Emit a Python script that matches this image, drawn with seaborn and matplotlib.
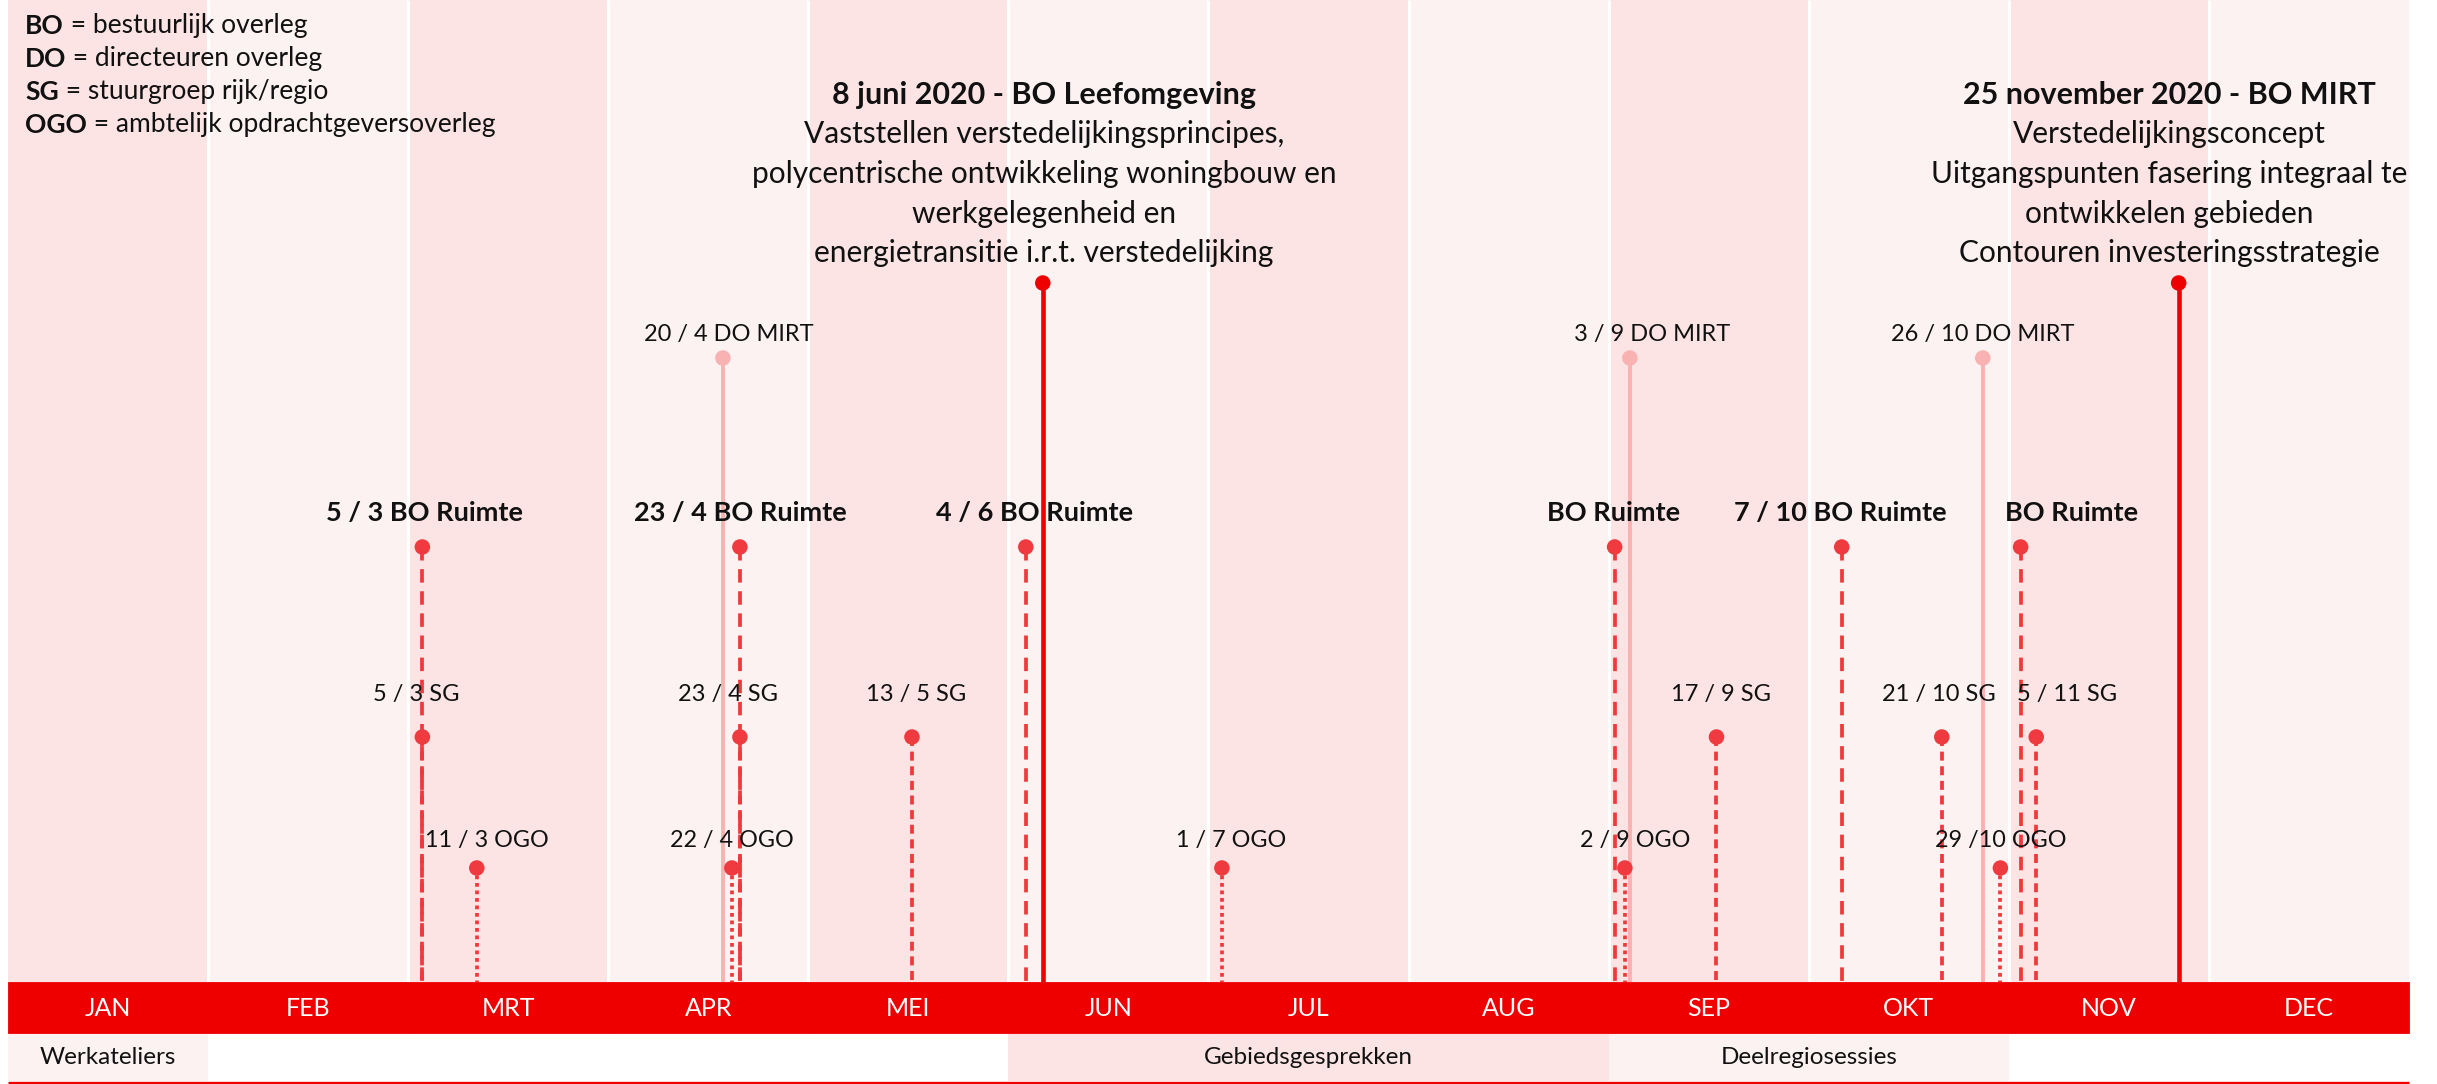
import matplotlib
matplotlib.use("Agg")
import matplotlib.pyplot as plt
import numpy as np
import pandas as pd
import seaborn as sns

# ---------------- data ----------------
months = ["JAN", "FEB", "MRT", "APR", "MEI", "JUN", "JUL", "AUG", "SEP", "OKT", "NOV", "DEC"]

# position = month index + fraction of month
bo_main_titles = ["8 juni 2020 - BO Leefomgeving", "25 november 2020 - BO MIRT"]
bo_main_pos = [5.172, 10.849]
bo_main_body = [
    ["Vaststellen verstedelijkingsprincipes,",
     "polycentrische ontwikkeling woningbouw en",
     "werkgelegenheid en",
     "energietransitie i.r.t. verstedelijking"],
    ["Verstedelijkingsconcept",
     "Uitgangspunten fasering integraal te",
     "ontwikkelen gebieden",
     "Contouren investeringsstrategie"],
]

do_labels = ["20 / 4 DO MIRT", "3 / 9 DO MIRT", "26 / 10 DO MIRT"]
do_pos = [3.573, 8.106, 9.870]

bo_ruimte_labels = ["5 / 3 BO Ruimte", "23 / 4 BO Ruimte", "4 / 6 BO Ruimte",
                    "BO Ruimte", "7 / 10 BO Ruimte", "BO Ruimte"]
bo_ruimte_pos = [2.071, 3.658, 5.087, 8.030, 9.165, 10.059]

sg_labels = ["5 / 3 SG", "23 / 4 SG", "13 / 5 SG", "17 / 9 SG", "21 / 10 SG", "5 / 11 SG"]
sg_pos = [2.071, 3.658, 4.518, 8.539, 9.665, 10.137]

ogo_labels = ["11 / 3 OGO", "22 / 4 OGO", "1 / 7 OGO", "2 / 9 OGO", "29 /10 OGO"]
ogo_pos = [2.343, 3.618, 6.067, 8.081, 9.958]

phase_labels = ["Werkateliers", "Gebiedsgesprekken", "Deelregiosessies"]
phase_start = [0, 5, 8]
phase_end = [1, 8, 10]

legend_abbr = ["BO", "DO", "SG", "OGO"]
legend_desc = ["bestuurlijk overleg", "directeuren overleg",
               "stuurgroep rijk/regio", "ambtelijk opdrachtgeversoverleg"]

# ---------------- layout / style ----------------
W, H = 2437, 1084
X0, MW = 8.0, 200.08            # left edge of JAN and month width in px
BAR_TOP, BAR_BOT, ROW_BOT = 982, 1033, 1081

level = {"main": 283, "do": 358, "bor": 547, "sg": 737, "ogo": 868}
label_y = {"do": 334, "bor": 513, "sg": 694, "ogo": 841}
label_dx_px = {
    "do": [6, 22, 0],
    "bor": [2, 0, 9, -1, -1, 51],
    "sg": [-6, -12, 4, 5, -3, 31],
    "ogo": [10, 0, 9, 10, 0],
    "main": [1, -9],
}
label_size = {"do": 17, "bor": 19.5, "sg": 17, "ogo": 16.8}

RED = "#EE0000"
DOT_RED = "#EF3B3F"
LINE_RED = "#F0393C"
PINK = "#F9B2B2"
BAND_A = "#FCE4E4"
BAND_B = "#FDF2F2"

sns.set_style("white")
FONT = ["Lato", "DejaVu Sans"]
plt.rcParams["font.family"] = FONT

fig = plt.figure(figsize=(W / 100, H / 100), dpi=100)
ax = fig.add_axes([0, 0, 1, 1])

# month background bands
centers = np.arange(12) + 0.5
band_colors = [BAND_A if i % 2 == 0 else BAND_B for i in range(12)]
ax.bar(centers, BAR_TOP, bottom=0, width=1.0, color=band_colors, linewidth=0, zorder=0)
for b in range(1, 12):
    ax.plot([b, b], [0, BAR_TOP], color="white", lw=2.2, zorder=1, solid_capstyle="butt")

# month red bar
ax.bar(centers, BAR_BOT - BAR_TOP, bottom=BAR_TOP, width=1.0, color=RED,
       edgecolor=RED, linewidth=0.6, zorder=6)
for i, m in enumerate(months):
    ax.text(i + 0.5, (BAR_TOP + BAR_BOT) / 2 + 1, m, ha="center", va="center",
            color="white", fontsize=18, zorder=7)

# bottom phase row
phase_colors = [BAND_B, BAND_A, BAND_B]
for lab, s, e, c in zip(phase_labels, phase_start, phase_end, phase_colors):
    ax.bar((s + e) / 2, ROW_BOT - BAR_BOT, bottom=BAR_BOT, width=e - s, color=c,
           linewidth=0, zorder=1)
    ax.text((s + e) / 2, (BAR_BOT + ROW_BOT) / 2 + 1, lab, ha="center", va="center",
            color="#111111", fontsize=17.5, zorder=7)
ax.plot([0, 12], [ROW_BOT + 1.5, ROW_BOT + 1.5], color=RED, lw=2.4, zorder=7,
        solid_capstyle="butt")

# events table
rows = []
for p in bo_main_pos:
    rows.append(("main", p))
for p in do_pos:
    rows.append(("do", p))
for p in bo_ruimte_pos:
    rows.append(("bor", p))
for p in sg_pos:
    rows.append(("sg", p))
for p in ogo_pos:
    rows.append(("ogo", p))
df = pd.DataFrame(rows, columns=["kind", "pos"])
df["level"] = df["kind"].map(level)

stem_style = {
    "main": dict(color=RED, lw=3.3, ls="-", z=3.4),
    "do": dict(color=PINK, lw=2.8, ls="-", z=2.0),
    "bor": dict(color=LINE_RED, lw=2.7, ls=(0, (3.6, 2.3)), z=3.0),
    "sg": dict(color=LINE_RED, lw=2.7, ls=(0, (2.4, 1.5)), z=3.1),
    "ogo": dict(color=LINE_RED, lw=2.7, ls=(0, (1.0, 1.0)), z=3.2),
}
for _, r in df.iterrows():
    st = stem_style[r["kind"]]
    ax.plot([r["pos"], r["pos"]], [r["level"], BAR_TOP], color=st["color"], lw=st["lw"],
            ls=st["ls"], zorder=st["z"], solid_capstyle="butt", dash_capstyle="butt")

palette = {"main": RED, "do": PINK, "bor": DOT_RED, "sg": DOT_RED, "ogo": DOT_RED}
sns.scatterplot(data=df, x="pos", y="level", hue="kind", palette=palette, s=125,
                linewidth=0, legend=False, ax=ax, zorder=5)
ax.set_xlim(-X0 / MW, (W - X0) / MW)
ax.set_ylim(H, 0)
ax.axis("off")

# labels
def put_labels(kind, labels, pos, bold=False):
    for lab, p, dx in zip(labels, pos, label_dx_px[kind]):
        ax.text(p + dx / MW, label_y[kind], lab, ha="center", va="center",
                fontsize=label_size[kind], fontweight="bold" if bold else "normal",
                color="#111111", zorder=8)

put_labels("do", do_labels, do_pos)
put_labels("bor", bo_ruimte_labels, bo_ruimte_pos, bold=True)
put_labels("sg", sg_labels, sg_pos)
put_labels("ogo", ogo_labels, ogo_pos)

TITLE_Y, LINE_GAP = 95, 39.5
for t, p, body, dx in zip(bo_main_titles, bo_main_pos, bo_main_body, label_dx_px["main"]):
    ax.text(p + dx / MW, TITLE_Y, t, ha="center", va="center", fontsize=22,
            fontweight="bold", color="#111111", zorder=8)
    for k, line in enumerate(body):
        ax.text(p + dx / MW, TITLE_Y + (k + 1) * LINE_GAP, line, ha="center",
                va="center", fontsize=21.5, color="#111111", zorder=8)

# abbreviation legend (top-left)
for k, (a, d) in enumerate(zip(legend_abbr, legend_desc)):
    y = 26 + k * 33
    t = ax.text((25 - X0) / MW, y, a, ha="left", va="center", fontsize=19,
                fontweight="bold", color="#111111", zorder=8)
    ax.annotate(" = " + d, xy=(1, 0), xycoords=t, ha="left", va="bottom",
                fontsize=19, color="#111111", zorder=8)

fig.savefig("out.png", dpi=100)
